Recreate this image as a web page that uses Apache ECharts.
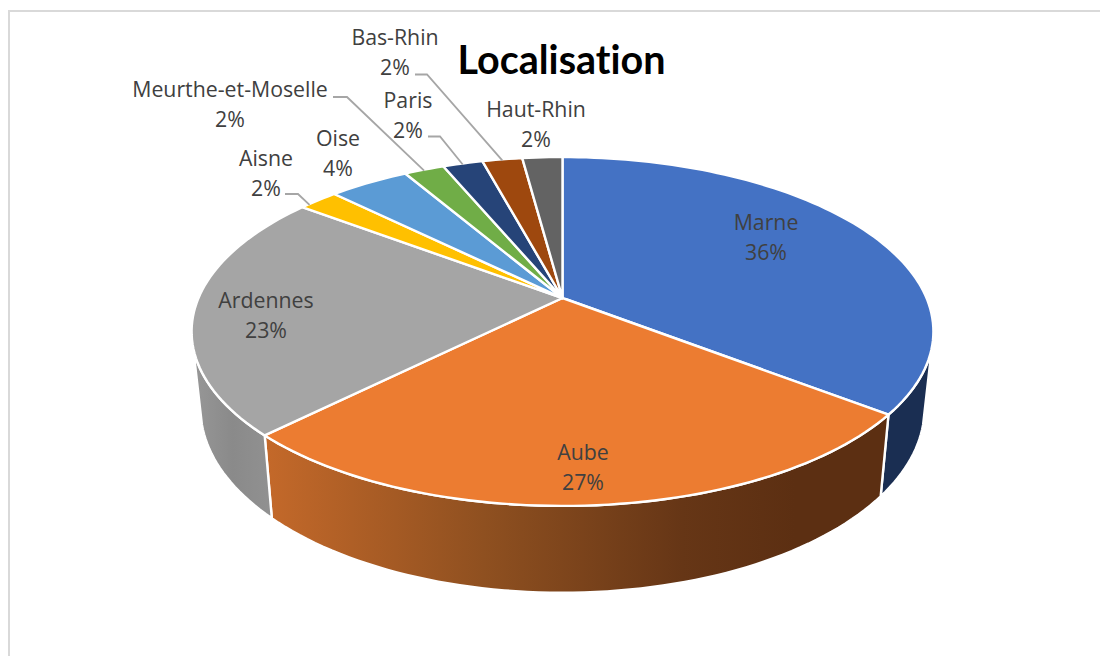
<!DOCTYPE html>
<html><head><meta charset="utf-8">
<style>html,body{margin:0;padding:0;background:#fff}#c{width:1100px;height:656px}
#c text{font-variant-ligatures:none;font-feature-settings:"liga" 0;text-rendering:optimizeSpeed}</style>
<script src="https://cdn.jsdelivr.net/npm/echarts@6/dist/echarts.min.js"></script>
</head><body><div id="c"></div>
<script>
const categories = ['Marne','Aube','Ardennes','Aisne','Oise','Meurthe-et-Moselle','Paris','Bas-Rhin','Haut-Rhin'];
const values = [35.5, 27.0, 22.8, 2.1, 4.2, 2.1, 2.1, 2.1, 2.1];
const percentLabels = ['36%','27%','23%','2%','4%','2%','2%','2%','2%'];
const topColors = ['#4472C4','#EC7C31','#A5A5A5','#FFC000','#5B9BD5','#70AD47','#264478','#9E480E','#636363'];

// layout of the tilted disc
const view = {cx:562.5, apexY:298, B:364, A:168, k:0.192, lowerScaleX:0.976, lowerScaleY:1.057, lowerShift:75, sideFrom:106, sideTo:254};
const labelAnchors = [[766,236.5],[583,466.5],[266,314.5],[266,172.5],[338,152.5],[230,103.5],[408,114.5],[395,51.5],[536,123.5]];
const leaderElbows = {3:[[285,194],[298,194]],5:[[333,97],[347,97]],6:[[428,136.5],[440,136.5]],7:[[415,74.5],[427,74.5]]};
const leaderAngleNudge = {3:-2};
const sideFills = {
  0:'#1A2E52',
  1:{type:'linear',x:0,y:0,x2:1,y2:0,colorStops:[{offset:0,color:'#C4692A'},{offset:0.35,color:'#8F5020'},{offset:0.67,color:'#663616'},{offset:0.85,color:'#5C2F12'},{offset:1,color:'#5C2F12'}]},
  2:{type:'linear',x:0,y:0,x2:1,y2:0,colorStops:[{offset:0,color:'#979797'},{offset:0.5,color:'#8A8A8A'},{offset:1,color:'#919191'}]}
};
const labelFont = '"Open Sans", sans-serif';
const textColor = '#404040';

const total = values.reduce((a,b)=>a+b,0);
function startAngle(i){let s=0;for(let j=0;j<i;j++)s+=values[j];return s/total*360;}
function topPoint(deg){
  const a=deg*Math.PI/180, x=Math.sin(a), y=-Math.cos(a), w=1-view.k*y;
  return [view.B*x/w, view.A*y/w];
}
const toTop = p=>[view.cx+p[0], view.apexY+p[1]];
const toLow = p=>[view.cx+p[0]*view.lowerScaleX, view.apexY+view.lowerShift+p[1]*view.lowerScaleY];
function arc(a0,a1){
  const n=Math.max(2,Math.ceil((a1-a0)/1.5)), pts=[];
  for(let i=0;i<=n;i++)pts.push(topPoint(a0+(a1-a0)*i/n));
  return pts;
}

function renderSide(params,api){
  const i=params.dataIndex, v=api.value(0), s=startAngle(i), e=s+v/total*360;
  const a0=Math.max(s,view.sideFrom), a1=Math.min(e,view.sideTo);
  if(a1<=a0) return {type:'group',children:[]};
  const rim=arc(a0,a1);
  const pts=rim.map(toTop).concat(rim.slice().reverse().map(toLow));
  return {type:'polygon',shape:{points:pts},
    style:{fill:sideFills[i],stroke:'#fff',lineWidth:2.4,lineJoin:'round'}};
}
function renderTop(params,api){
  const i=params.dataIndex, v=api.value(0), s=startAngle(i), e=s+v/total*360;
  const pts=[[view.cx,view.apexY]].concat(arc(s,e).map(toTop));
  return {type:'polygon',shape:{points:pts},
    style:{fill:topColors[i],stroke:'#fff',lineWidth:2.4,lineJoin:'round'}};
}
function renderLabel(params,api){
  const i=params.dataIndex, v=api.value(0), s=startAngle(i), e=s+v/total*360;
  const kids=[];
  if(leaderElbows[i]){
    const end=toTop(topPoint((s+e)/2 + (leaderAngleNudge[i]||0)));
    kids.push({type:'polyline',shape:{points:leaderElbows[i].concat([[end[0],end[1]+1]])},
      style:{fill:'none',stroke:'#A6A6A6',lineWidth:1.8}});
  }
  const an=labelAnchors[i];
  kids.push({type:'text',style:{x:an[0],y:an[1],text:categories[i]+'\n'+percentLabels[i],align:'center',verticalAlign:'middle',
    font:'21.3px '+labelFont,lineHeight:29.5,fill:textColor}});
  return {type:'group',children:kids};
}
const sliceData=values.map((v,i)=>({name:categories[i],value:v}));
const chart=echarts.init(document.getElementById('c'),null,{renderer:'svg'});
chart.setOption({
  animation:false,
  backgroundColor:'#fff',
  title:{text:'Localisation',left:556.5,top:33,textAlign:'center',
    textStyle:{fontFamily:'Lato, sans-serif',fontWeight:'bold',fontSize:39.5,color:'#000'}},
  graphic:[
    {type:'polyline',shape:{points:[[9,656],[9,11],[1100,11]]},style:{fill:'none',stroke:'#D9D9D9',lineWidth:2}}
  ],
  series:[
    {type:'custom',coordinateSystem:'none',name:'side',data:sliceData,renderItem:renderSide,z:1,silent:true},
    {type:'custom',coordinateSystem:'none',name:'top',data:sliceData,renderItem:renderTop,z:2,silent:true},
    {type:'custom',coordinateSystem:'none',name:'labels',data:sliceData,renderItem:renderLabel,z:3,silent:true}
  ]
});
</script></body></html>
